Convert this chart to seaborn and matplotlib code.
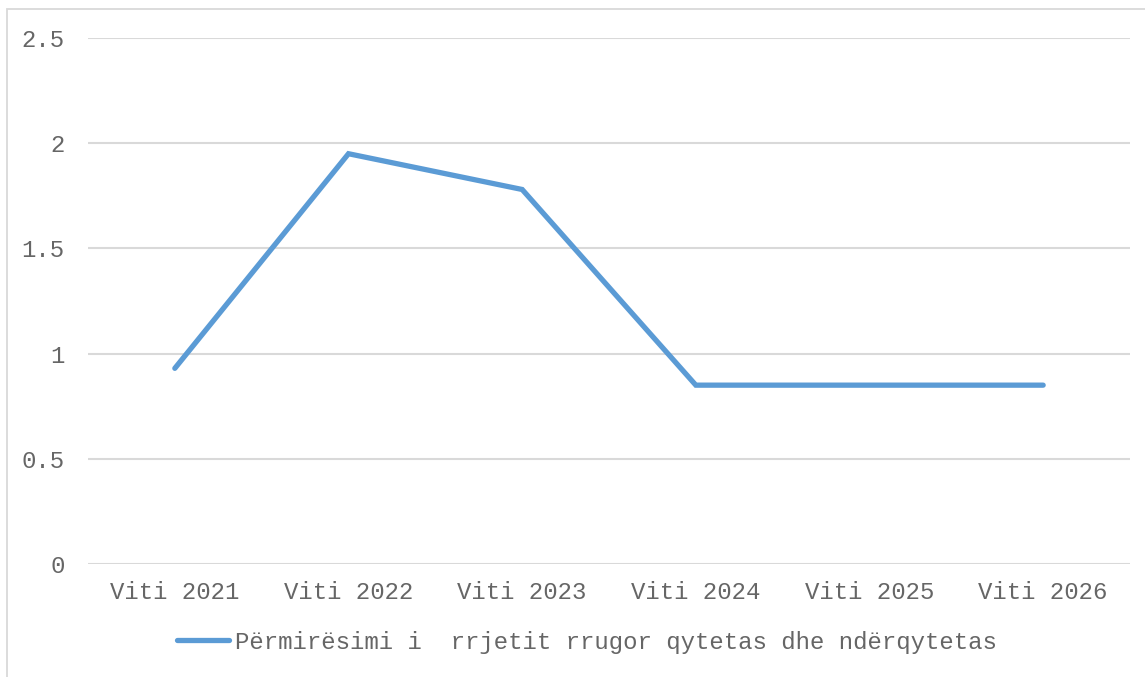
import pandas as pd
import matplotlib
matplotlib.use("Agg")
import matplotlib.pyplot as plt
import seaborn as sns
from matplotlib.patches import Rectangle

# te dhenat
vitet = ["Viti 2021", "Viti 2022", "Viti 2023", "Viti 2024", "Viti 2025", "Viti 2026"]
vlerat = [0.93, 1.95, 1.78, 0.85, 0.85, 0.85]
seria = "Përmirësimi i  rrjetit rrugor qytetas dhe ndërqytetas"
y_ticks = [0, 0.5, 1, 1.5, 2, 2.5]
y_labels = ["0", "0.5", "1", "1.5", "2", "2.5"]

df = pd.DataFrame({"viti": vitet, "vlera": vlerat, "seria": seria})

sns.set_style("white")
plt.rcParams['font.family'] = ['Liberation Mono', 'DejaVu Sans Mono']

fig = plt.figure(figsize=(11.45, 6.77), dpi=100)
ax = fig.add_axes([88/1145, 1 - 564/677, (1130 - 88)/1145, (564 - 38)/677])

sns.lineplot(data=df, x="viti", y="vlera", hue="seria", palette=["#5B9BD5"],
             linewidth=3.8, sort=False, ax=ax, legend=False)
for ln in ax.lines:
    ln.set_solid_capstyle("round")
    ln.set_solid_joinstyle("miter")

ax.set_xlim(-0.5, len(vitet) - 0.5)
ax.set_ylim(0, 2.5)
ax.set_yticks(y_ticks)
ax.set_yticklabels(y_labels)
ax.set_xlabel("")
ax.set_ylabel("")
ax.grid(axis="y", color="#D9D9D9", linewidth=1.5)
ax.set_axisbelow(True)
for s in ax.spines.values():
    s.set_visible(False)
ax.tick_params(axis="both", length=0, labelsize=17.3, colors="#666666")
ax.tick_params(axis="y", pad=17)
ax.tick_params(axis="x", pad=12)

handle = plt.Line2D([], [], color="#5B9BD5", linewidth=3.8, solid_capstyle="round")
fig.legend([handle], [seria], loc="center", bbox_to_anchor=(587/1145, 1 - 642/677),
           frameon=False, fontsize=17.3, handlelength=2.15, handletextpad=0.25,
           labelcolor="#666666")

# korniza e figures
fig.patches.append(Rectangle((7/1145, -0.1), 1.1, 1 - 9/677 + 0.1, transform=fig.transFigure,
                             fill=False, edgecolor="#D9D9D9", linewidth=1.3, zorder=0))

fig.savefig("out.png", dpi=100, facecolor="white")
